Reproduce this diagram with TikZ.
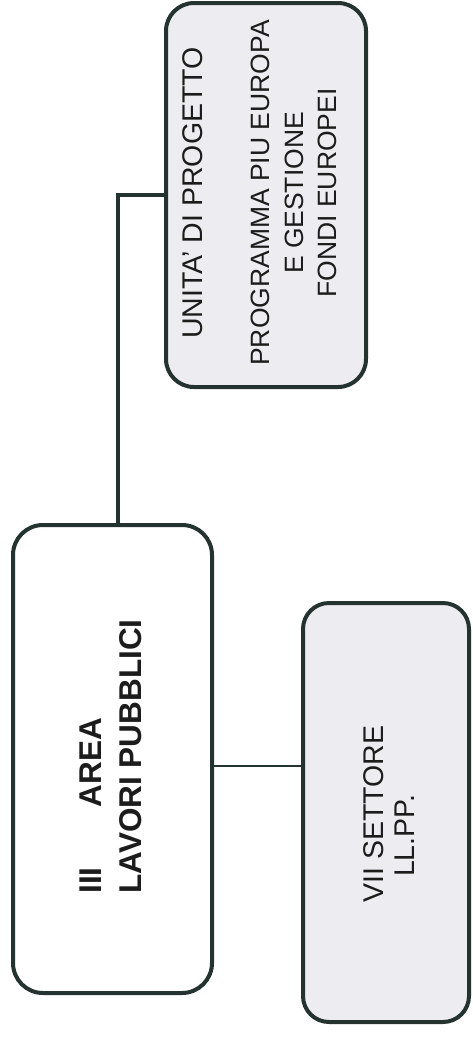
\documentclass[tikz,border=0pt]{standalone}
\usepackage{fontspec}
\setmainfont{Liberation Sans}
\definecolor{bordercol}{HTML}{24332F}
\definecolor{boxfill}{HTML}{EDEDF1}
\definecolor{textcol}{HTML}{1C1C1C}
\begin{document}
\begin{tikzpicture}[x=1pt,y=-1pt,
  orgbox/.style={draw=bordercol, line width=4pt, inner sep=0pt},
  thickconn/.style={draw=bordercol, line width=4pt},
  thinconn/.style={draw=bordercol, line width=2pt},
  lbl/.style={rotate=90, text=textcol, inner sep=0pt}]
\useasboundingbox (0,0) rectangle (472,1037);
% boxes
\node[orgbox, fill=white, rounded corners=30pt, minimum width=199pt, minimum height=468pt] (A) at (112.5,759) {};
\node[orgbox, fill=boxfill, rounded corners=28pt, minimum width=200pt, minimum height=384pt] (B) at (266,195) {};
\node[orgbox, fill=boxfill, rounded corners=26pt, minimum width=166pt, minimum height=419pt] (C) at (386,812.5) {};
% labels
\node[lbl, align=left, font=\fontsize{31.5}{40}\bfseries] (tA) at (111,756.5) {III\hspace*{60pt}AREA\\LAVORI PUBBLICI};
\node[lbl, align=center, font=\fontsize{26.5}{33.5}\selectfont] (tB) at (260,193) {{\fontsize{28.5}{33.5}\selectfont UNITA’ DI PROGETTO}\\[33.5pt]PROGRAMMA PIU EUROPA\\E GESTIONE\\FONDI EUROPEI};
\node[lbl, align=center, font=\fontsize{28.5}{31.5}\selectfont] (tC) at (389,814) {VII SETTORE\\LL.PP.\hspace*{44pt}};
% connectors
\draw[thickconn] ([xshift=5.5pt]A.north) |- (B.west);
\draw[thinconn] ([yshift=-7pt]A.east) -- ([yshift=-7pt]A.east -| C.west);
\end{tikzpicture}
\end{document}
